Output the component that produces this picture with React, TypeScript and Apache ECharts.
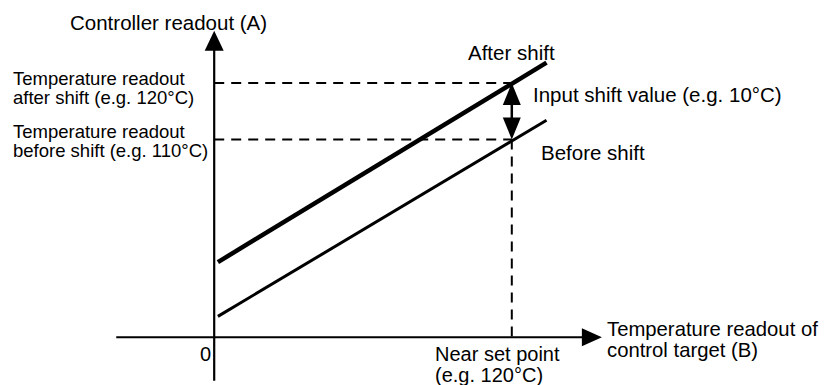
import React, { useEffect, useRef } from "react";
import * as echarts from "echarts";

// Schematic coordinates: x = temperature readout of control target, y = controller readout
const axisLevel = 75; // y level where the horizontal axis is drawn
const setPoint = 120; // near set point (e.g. 120°C)
const readoutBefore = 110; // temperature readout before shift
const readoutAfter = 120; // temperature readout after shift

const xAxisLine = [[-39.5, 75], [150, 75]];
const yAxisLine = [[0, 67.3], [0, 126]];
const afterShift = [[1.5, 88.3], [134, 123.6]];
const beforeShift = [[1.5, 78.7], [134, 113.4]];

const axisArrows = [
  { value: [0, 127.5], symbolRotate: 0, symbolSize: [19, 20] },
  { value: [152.3, 75], symbolRotate: -90, symbolSize: [18, 20] },
];
const shiftArrows = [
  { value: [120, 118.05], symbolRotate: 0 },
  { value: [120, 111.95], symbolRotate: 180 },
];
const shiftShaft = [[120, 117], [120, 113]];

const FONT = "'Liberation Sans', Arial, Helvetica, sans-serif";

export default function App() {
  const ref = useRef<HTMLDivElement>(null);
  useEffect(() => {
    if (!ref.current) return;
    const chart = echarts.init(ref.current, undefined, { renderer: "svg" });
    const black = "#000";
    const lineSeries = (data: number[][], width: number, type: any = "solid") => ({
      type: "line",
      data,
      showSymbol: false,
      symbol: "none",
      silent: true,
      clip: false,
      lineStyle: { color: black, width, type, cap: "butt", opacity: 1 },
    });
    const txt = (
      text: string,
      x: number,
      y: number,
      size: number,
      align: string = "left"
    ) => ({
      type: "text",
      x,
      y,
      silent: true,
      style: {
        text,
        fill: black,
        fontSize: size,
        fontFamily: FONT,
        textAlign: align,
        textVerticalAlign: "middle",
      },
    });
    chart.setOption({
      animation: false,
      backgroundColor: "#fff",
      grid: { left: 115, width: 496, top: 26.5, bottom: 2.55, containLabel: false },
      xAxis: { type: "value", min: -40, max: 160, show: false },
      yAxis: { type: "value", min: 67, max: 130, show: false },
      series: [
        lineSeries(xAxisLine, 2.2),
        lineSeries(yAxisLine, 2.2),
        lineSeries(
          [
            [0, readoutAfter],
            [setPoint, readoutAfter],
          ],
          2,
          [10, 7]
        ),
        lineSeries(
          [
            [0, readoutBefore],
            [setPoint, readoutBefore],
          ],
          2,
          [10, 7]
        ),
        lineSeries(
          [
            [setPoint, readoutBefore],
            [setPoint, axisLevel],
          ],
          2,
          [10, 7]
        ),
        lineSeries(afterShift, 4.5),
        lineSeries(beforeShift, 3),
        lineSeries(shiftShaft, 2.5),
        {
          type: "scatter",
          symbol: "triangle",
          silent: true,
          clip: false,
          itemStyle: { color: black, opacity: 1 },
          data: axisArrows,
        },
        {
          type: "scatter",
          symbol: "triangle",
          symbolSize: [18, 22],
          silent: true,
          clip: false,
          itemStyle: { color: black, opacity: 1 },
          data: shiftArrows,
        },
      ],
      graphic: [
        txt("Controller readout (A)", 70, 22, 20.5),
        txt("Temperature readout", 13, 78, 18.5),
        txt("after shift (e.g. 120°C)", 13, 97, 18.5),
        txt("Temperature readout", 13, 131, 18.5),
        txt("before shift (e.g. 110°C)", 13, 150, 18.5),
        txt("After shift", 468, 52, 20.5),
        txt("Input shift value (e.g. 10°C)", 533, 94, 20.5),
        txt("Before shift", 541, 152, 20.5),
        txt("0", 211, 354, 20, "right"),
        txt("Near set point", 435, 354, 20),
        txt("(e.g. 120°C)", 435, 375, 20),
        txt("Temperature readout of", 607, 329, 20.3),
        txt("control target (B)", 607, 350, 20.3),
      ],
    });
    return () => chart.dispose();
  }, []);
  return (
    <div
      ref={ref}
      style={{ position: "fixed", left: 0, top: 0, width: 832, height: 385, background: "#fff" }}
    />
  );
}
